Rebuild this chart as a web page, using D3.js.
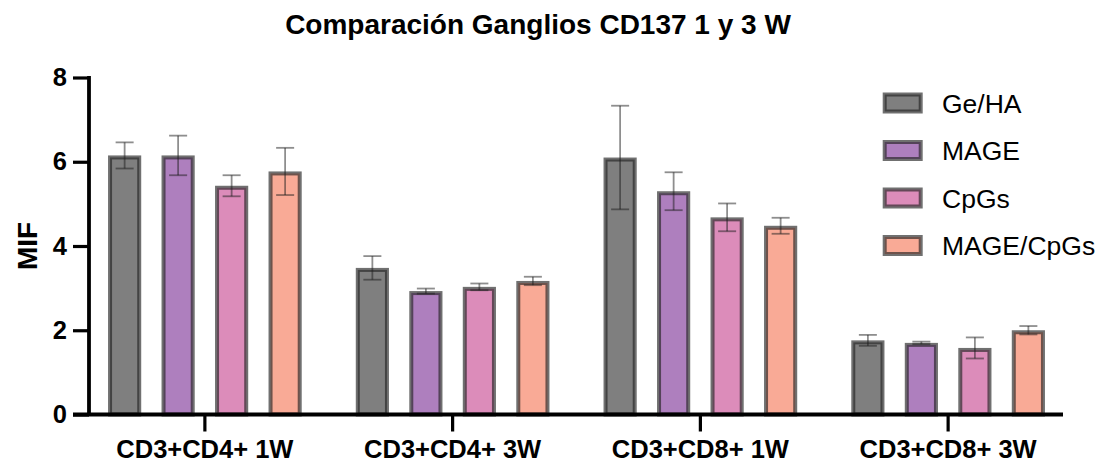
<!DOCTYPE html>
<html>
<head>
<meta charset="utf-8">
<script src="https://cdn.jsdelivr.net/npm/d3@7"></script>
<style>
  html, body { margin: 0; padding: 0; background: #fff; }
  svg { display: block; font-family: "Liberation Sans", Arial, Helvetica, sans-serif; }
</style>
</head>
<body>
<svg id="chart" width="1101" height="465"></svg>
<script>
const categories = ["CD3+CD4+ 1W", "CD3+CD4+ 3W", "CD3+CD8+ 1W", "CD3+CD8+ 3W"];
const seriesNames = ["Ge/HA", "MAGE", "CpGs", "MAGE/CpGs"];
const seriesColors = ["#7f7f7f", "#ae7fbe", "#dc8cba", "#f9aa96"];
const gehaValues = [6.15, 3.48, 6.10, 1.76];
const gehaErrors = [0.31, 0.28, 1.23, 0.13];
const mageValues = [6.15, 2.93, 5.30, 1.70];
const mageErrors = [0.47, 0.06, 0.45, 0.03];
const cpgsValues = [5.43, 3.03, 4.68, 1.58];
const cpgsErrors = [0.25, 0.08, 0.33, 0.25];
const mageCpgsValues = [5.77, 3.17, 4.48, 2.00];
const mageCpgsErrors = [0.56, 0.10, 0.19, 0.10];
const yTicks = [0, 2, 4, 6, 8];
const titleText = "Comparación Ganglios CD137 1 y 3 W";
const yLabel = "MIF";

const seriesValues = [gehaValues, mageValues, cpgsValues, mageCpgsValues];
const seriesErrors = [gehaErrors, mageErrors, cpgsErrors, mageCpgsErrors];

const svg = d3.select("#chart");

const y = d3.scaleLinear().domain([0, 8]).range([414.5, 77.5]);
const x0 = d3.scaleBand().domain(categories).range([81, 1072]).padding(0);
const x1 = d3.scaleBand().domain(seriesNames).range([-107, 107])
  .paddingInner(0.38).paddingOuter(0.19);

const data = [];
categories.forEach((c, ci) => {
  seriesNames.forEach((s, si) => {
    data.push({cat: c, ser: s, si: si, v: seriesValues[si][ci], e: seriesErrors[si][ci]});
  });
});

const barStroke = 4;
const bw = x1.bandwidth();

// bars
svg.append("g").selectAll("rect").data(data).join("rect")
  .attr("x", d => x0(d.cat) + x0.bandwidth() / 2 + x1(d.ser) + barStroke / 2)
  .attr("y", d => y(d.v) + barStroke / 2)
  .attr("width", bw - barStroke)
  .attr("height", d => y(0) - y(d.v) - barStroke / 2)
  .attr("fill", d => seriesColors[d.si])
  .attr("stroke", "rgba(35,35,35,0.65)")
  .attr("stroke-width", barStroke);

// error bars
const eg = svg.append("g").attr("stroke", "rgba(30,30,30,0.5)").attr("stroke-width", 1.8).attr("fill", "none");
const capW = 18;
data.forEach(d => {
  const cx = x0(d.cat) + x0.bandwidth() / 2 + x1(d.ser) + bw / 2;
  eg.append("line").attr("x1", cx).attr("x2", cx).attr("y1", y(d.v + d.e)).attr("y2", y(d.v - d.e));
  eg.append("line").attr("x1", cx - capW / 2).attr("x2", cx + capW / 2).attr("y1", y(d.v + d.e)).attr("y2", y(d.v + d.e));
  eg.append("line").attr("x1", cx - capW / 2).attr("x2", cx + capW / 2).attr("y1", y(d.v - d.e)).attr("y2", y(d.v - d.e));
});

// y axis
const yAxis = d3.axisLeft(y).tickValues(yTicks).tickFormat(d3.format("d")).tickSize(16).tickPadding(6);
const gy = svg.append("g").attr("transform", "translate(89,0)").call(yAxis);
gy.select(".domain").attr("stroke", "#000").attr("stroke-width", 3.8)
  .attr("d", `M0,${y(0)}V${y(8) - 1.5}`);
gy.selectAll(".tick line").attr("stroke", "#000").attr("stroke-width", 3.2);
gy.selectAll(".tick text").attr("fill", "#000").attr("font-size", 25.5).attr("font-weight", "bold")
  .attr("font-family", "'Liberation Sans', Arial, sans-serif");

// x axis
const xAxis = d3.axisBottom(x0).tickSize(17).tickPadding(8);
const gx = svg.append("g").attr("transform", `translate(0,${y(0)})`).call(xAxis);
gx.select(".domain").attr("stroke", "#000").attr("stroke-width", 3.8).attr("d", "M73,0H1063");
gx.selectAll(".tick line").attr("stroke", "#000").attr("stroke-width", 3.2);
gx.selectAll(".tick text").attr("fill", "#000").attr("font-size", 25.5).attr("font-weight", "bold")
  .attr("font-family", "'Liberation Sans', Arial, sans-serif");

// y label
svg.append("text")
  .attr("transform", "translate(37,246) rotate(-90)")
  .attr("text-anchor", "middle")
  .attr("font-size", 28).attr("font-weight", "bold")
  .text(yLabel);

// title
svg.append("text")
  .attr("x", 538).attr("y", 34)
  .attr("text-anchor", "middle")
  .attr("font-size", 28).attr("font-weight", "bold")
  .text(titleText);

// legend
const legendY = [103, 150.5, 198, 245.5];
const lg = svg.append("g");
seriesNames.forEach((s, i) => {
  lg.append("rect")
    .attr("x", 884.7).attr("y", legendY[i] - 8.5)
    .attr("width", 36).attr("height", 17)
    .attr("fill", seriesColors[i])
    .attr("stroke", "rgba(35,35,35,0.65)").attr("stroke-width", 4);
  lg.append("text")
    .attr("x", 942).attr("y", legendY[i])
    .attr("dy", "0.36em")
    .attr("font-size", 26.5)
    .attr("fill", "#000")
    .text(s);
});
</script>
</body>
</html>
